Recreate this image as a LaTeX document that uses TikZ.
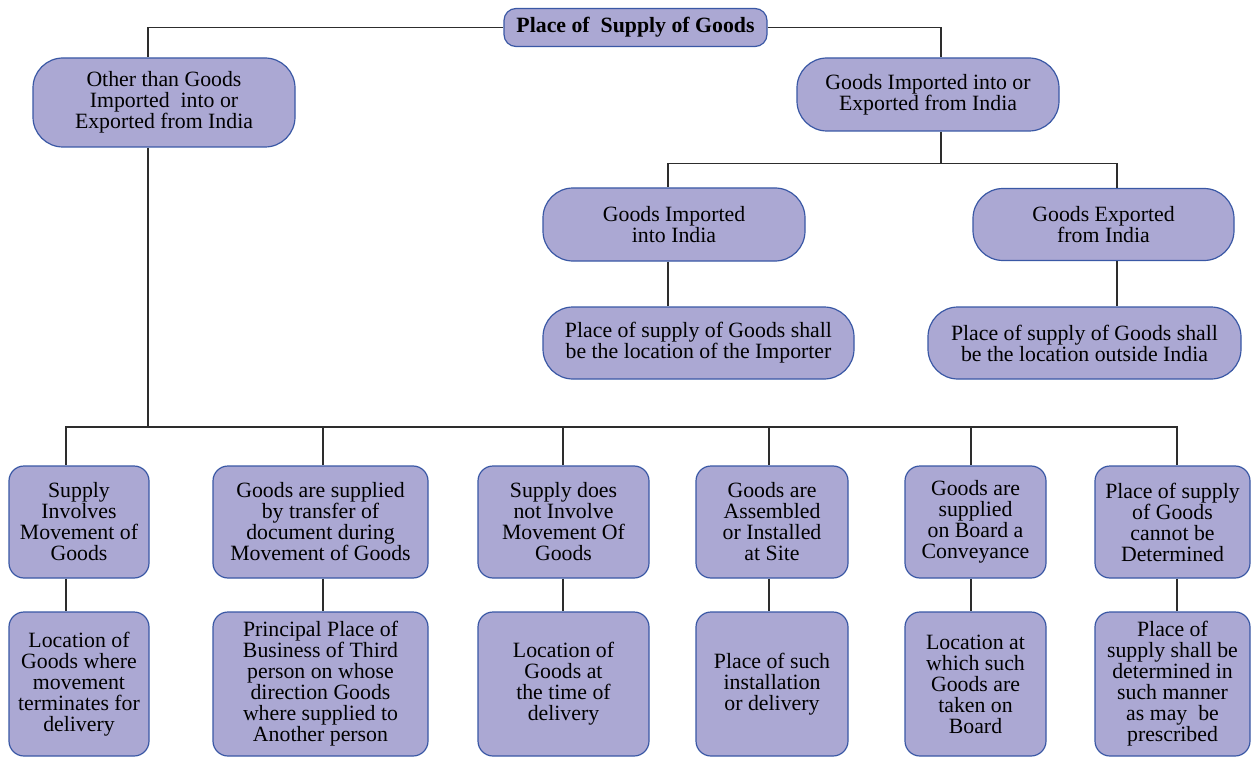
\documentclass[tikz,border=0pt]{standalone}
\usepackage{fontspec}
\setmainfont{Liberation Serif}
\usetikzlibrary{calc}
\definecolor{boxfill}{RGB}{171,168,211}
\definecolor{boxline}{RGB}{58,88,165}
\definecolor{wire}{RGB}{45,45,45}
\begin{document}
\begin{tikzpicture}[x=1pt,y=-1pt,
        box node/.style={draw=boxline,fill=boxfill,line width=1.2pt,align=center,
          inner sep=0pt,font=\fontsize{21.8}{21}\selectfont},
        pill node/.style={box node,rounded corners=30pt},
        cell node/.style={box node,rounded corners=15pt},
        wire/.style={draw=wire,line width=1.3pt}]

      \useasboundingbox[fill=white] (0,0) rectangle (1251,757);

      \node[box node,rounded corners=12pt,minimum width=263pt,minimum height=38pt,
        font=\fontsize{21.8}{21}\selectfont\bfseries] (top) at (635.5,27.5) {Place of\ \ Supply of Goods};

      \node[pill node,minimum width=262pt,minimum height=89pt] (other) at (164,102.5)
        {Other than Goods\\Imported\ \ into or\\Exported from India};
      \node[pill node,minimum width=262pt,minimum height=73pt] (impexp) at (928,94.5)
        {Goods Imported into or\\Exported from India};

      \node[pill node,minimum width=262pt,minimum height=73pt] (imp) at (674,224.5)
        {Goods Imported\\into India};
      \node[pill node,minimum width=261pt,minimum height=72pt] (exp) at (1103.5,224.5)
        {Goods Exported\\from India};
      \node[pill node,minimum width=311pt,minimum height=72pt] (impres) at (698.5,343)
        {Place of supply of Goods shall\\be the location of the Importer};
      \node[pill node,minimum width=313pt,minimum height=72pt] (expres) at (1084.5,343)
        {Place of supply of Goods shall\\be the location outside India};

      % lower row: cases and their place of supply
      \foreach \n/\x/\w/\t in {1/79/140/{Supply\\Involves\\Movement of\\Goods},
          2/320.5/215/{Goods are supplied\\by transfer of\\document during\\Movement of Goods},
          3/563.5/171/{Supply does\\not Involve\\Movement Of\\Goods},
          4/772/152/{Goods are\\Assembled\\or Installed\\at Site},
          5/975.5/141/{Goods are\\supplied\\on Board a\\Conveyance},
          6/1172.5/155/{Place of supply\\of Goods\\cannot be\\Determined}}
        \node[cell node,minimum width=\w pt,minimum height=112pt] (c\n) at (\x,522) {\t};

      \foreach \n/\x/\w/\t in {1/79/140/{Location of\\Goods where\\movement\\terminates for\\delivery},
          2/320.5/215/{Principal Place of\\Business of Third\\person on whose\\direction Goods\\where supplied to\\Another person},
          3/563.5/171/{Location of\\Goods at\\the time of\\delivery},
          4/772/152/{Place of such\\installation\\or delivery},
          5/975.5/141/{Location at\\which such\\Goods are\\taken on\\Board},
          6/1172.5/155/{Place of\\supply shall be\\determined in\\such manner\\as may\ \ be\\prescribed}}
        \node[cell node,minimum width=\w pt,minimum height=144pt] (r\n) at (\x,684) {\t};

      % top level
      \draw[wire] (top.west) -| ([xshift=-16pt]other.north);
      \draw[wire] (top.east) -| ([xshift=13pt]impexp.north);

      % imports and exports
      \coordinate (bus1) at ($(impexp.south)+(13,32)$);
      \draw[wire] ([xshift=13pt]impexp.south) -- (bus1);
      \draw[wire] (bus1) -| ([xshift=-6pt]imp.north);
      \draw[wire] (bus1) -| ([xshift=13.5pt]exp.north);
      \draw[wire] ([xshift=-6pt]imp.south) -- ([xshift=-30.5pt]impres.north);
      \draw[wire] ([xshift=13.5pt]exp.south) -- ([xshift=32.5pt]expres.north);

      % other cases
      \coordinate (bus2) at ([xshift=-16pt]other.south |- 0,427);
      \draw[wire] ([xshift=-16pt]other.south) -- (bus2);
      \foreach \n/\dx in {1/-13,2/2.5,3/-0.5,4/-3,5/-4.5,6/4.5} {
        \draw[wire] (bus2) -| ([xshift=\dx pt]c\n.north);
        \draw[wire] ([xshift=\dx pt]c\n.south) -- ([xshift=\dx pt]r\n.north);
      }
    \end{tikzpicture}
\end{document}
